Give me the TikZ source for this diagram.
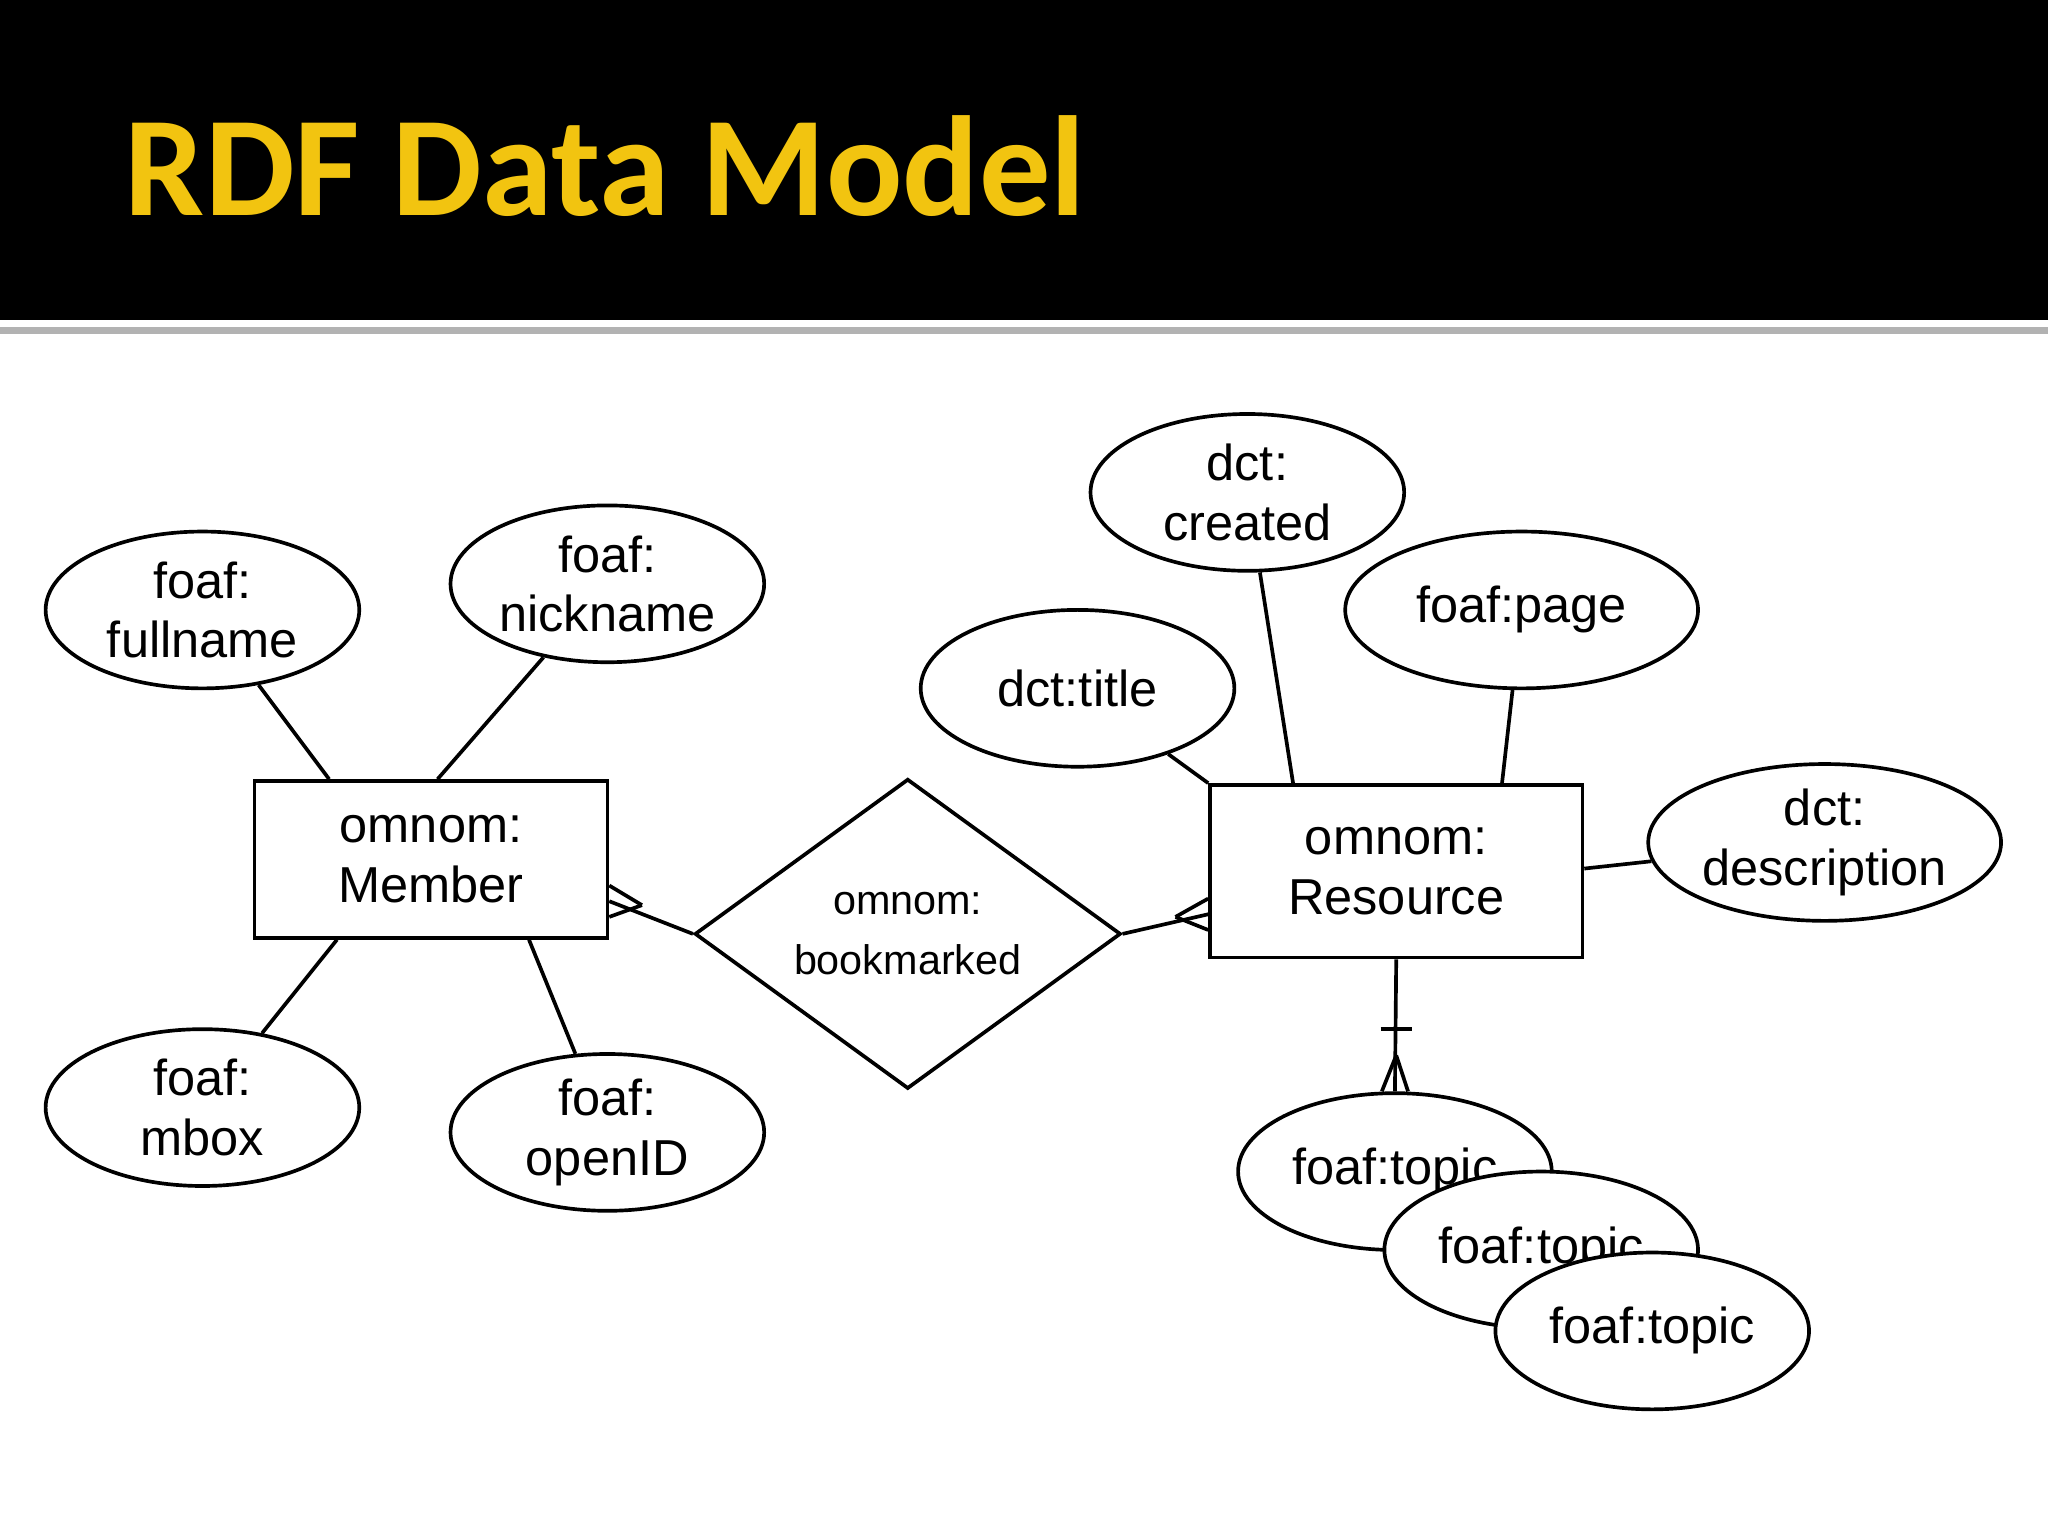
\documentclass[tikz,border=0pt]{standalone}
\usepackage{fontspec}
\setmainfont{Liberation Sans}
\newfontfamily\titlefont{Carlito}
\usetikzlibrary{shapes.geometric, positioning}
\tikzstyle{attr} = [ellipse, draw, thick, fill=white, minimum width=2.4cm, minimum height=1.2cm, align=center, font=\fontsize{11}{13}\selectfont, inner sep=0pt]
\tikzstyle{entity} = [rectangle, draw, thick, minimum width=2.7cm, minimum height=1.2cm, align=center, font=\fontsize{11}{13}\selectfont]
\tikzstyle{rel} = [diamond, draw, thick, minimum width=3.26cm, minimum height=1.95cm, align=center, font=\fontsize{9}{13}\selectfont, inner sep=0pt]
\tikzstyle{line} = [thick,-]
\definecolor{titleyellow}{RGB}{242,196,16}

\begin{document}
\begin{tikzpicture}[x=0.01cm, y=-0.01cm]
        \useasboundingbox (0,0) rectangle (1568,1176);
        % header
        \fill[black] (0,0) rectangle (1568,245);
        \draw[gray!60, line width=1.5pt] (0,253) -- (1568,253);
        \node (title) [anchor=base west, text=titleyellow, font=\titlefont\bfseries\fontsize{31}{36}\selectfont, inner sep=0pt] at (95,165) {RDF Data Model};

        % entities and relation
        \node (member) [entity] at (330,658) {omnom:\\Member};
        \node (resource) [entity, minimum width=2.85cm, minimum height=1.32cm] at (1069,667) {omnom:\\Resource};
        \node (bookmarked) [rel] at (695,715) {omnom:\\bookmarked};

        % attributes
        \node (fullname) [attr] at (155,467) {foaf:\\fullname};
        \node (nickname) [attr] at (465,447) {foaf:\\nickname};
        \node (mbox) [attr] at (155,848) {foaf:\\mbox};
        \node (openid) [attr] at (465,867) {foaf:\\openID};
        \node (created) [attr] at (955,377) {dct:\\created};
        \node (page) [attr, minimum width=2.7cm] at (1165,467) {foaf:page};
        \node (dcttitle) [attr] at (825,527) {dct:title};
        \node (description) [attr, minimum width=2.7cm] at (1397,645) {dct:\\description};

        % attribute links
        \draw [line] (fullname) -- (member.north -| 252,0);
        \draw [line] (nickname) -- (member.north -| 335,0);
        \draw [line] (member.south -| 258,0) -- (mbox);
        \draw [line] (member.south -| 405,0) -- (openid);
        \draw [line] (dcttitle) -- (resource.north west);
        \draw [line] (created) -- (resource.north -| 990,0);
        \draw [line] (page) -- (resource.north -| 1150,0);
        \draw [line] (resource.east |- 0,665) -- (description);

        % relation links with crow's feet
        \coordinate (mfoot) at (member.east |- 0,690);
        \draw [line] (mfoot) -- (bookmarked.west);
        \draw [line] ([xshift=0.25cm,yshift=-0.03cm]mfoot) -- ([yshift=0.12cm]mfoot);
        \draw [line] ([xshift=0.25cm,yshift=-0.03cm]mfoot) -- ([yshift=-0.12cm]mfoot);
        \coordinate (rfoot) at (resource.west |- 0,700);
        \draw [line] (bookmarked.east) -- (rfoot);
        \draw [line] ([xshift=-0.25cm,yshift=-0.02cm]rfoot) -- ([yshift=0.12cm]rfoot);
        \draw [line] ([xshift=-0.25cm,yshift=-0.02cm]rfoot) -- ([yshift=-0.12cm]rfoot);

        % topics
        \node (topic1) [attr] at (1068,897) {foaf:topic};
        \node (topic2) [attr] at (1180,957) {foaf:topic};
        \node (topic3) [attr] at (1265,1019) {foaf:topic};
        \draw [line] (resource.south) -- (topic1.north);
        \draw [line] ([xshift=-0.12cm]resource.south |- 0,788) -- ([xshift=0.12cm]resource.south |- 0,788);
        \draw [line] (resource.south |- 0,808) -- ([xshift=-0.1cm]topic1.north);
        \draw [line] (resource.south |- 0,808) -- ([xshift=0.1cm]topic1.north);
    \end{tikzpicture}
\end{document}
